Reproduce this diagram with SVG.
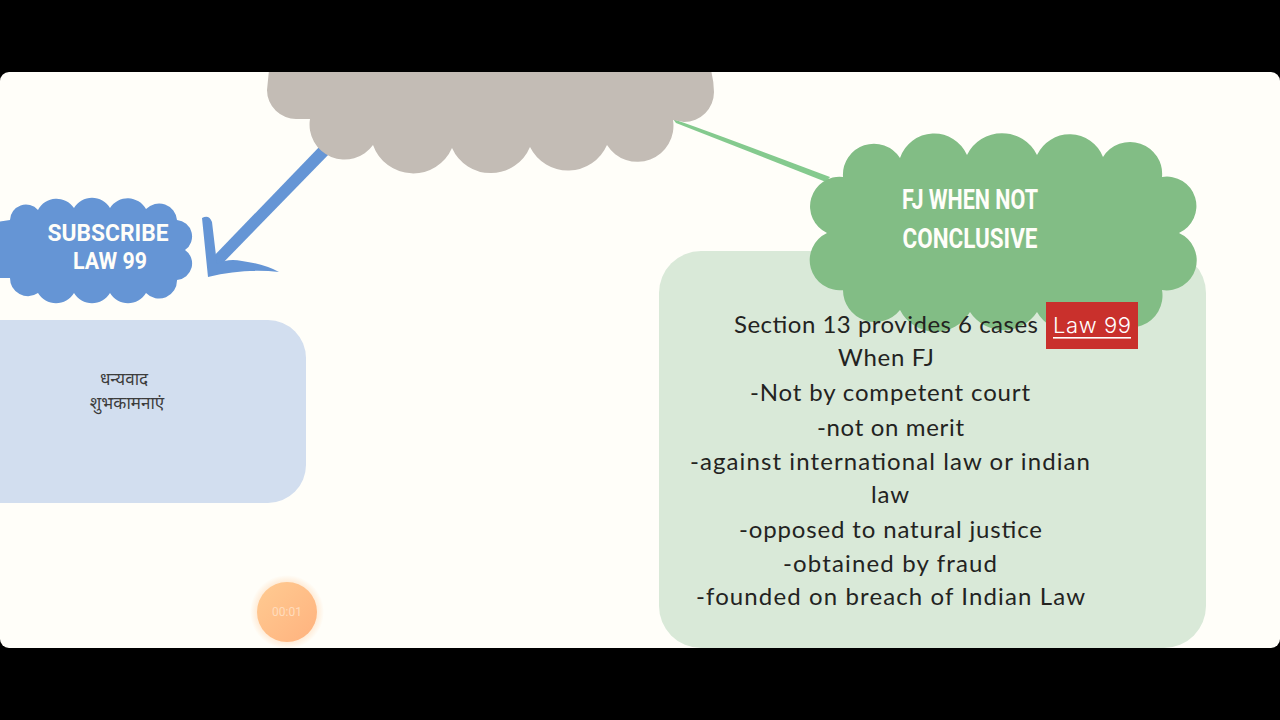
<svg xmlns="http://www.w3.org/2000/svg" width="1280" height="720" viewBox="0 0 1280 720">
<style>
.body{font-family:"Lato","Noto Sans",sans-serif;font-size:24px;fill:#23231f}
.head{font-family:"Roboto","Liberation Sans",sans-serif;font-weight:700;fill:#fffef9}
.hi{font-family:"Noto Sans","Noto Sans Devanagari","Lohit Devanagari","FreeSans",sans-serif;font-size:17px;fill:#3c3c3c;text-anchor:middle}
</style>
<defs>
<clipPath id="page"><rect x="0" y="72" width="1280" height="576" rx="9"/></clipPath>
<radialGradient id="glow"><stop offset="0.8" stop-color="#ffd9b5" stop-opacity="0.5"/><stop offset="1" stop-color="#ffd9b5" stop-opacity="0"/></radialGradient>
<linearGradient id="orb" x1="0" y1="0" x2="1" y2="1"><stop offset="0" stop-color="#ffcb92"/><stop offset="1" stop-color="#ffb27e"/></linearGradient>
</defs>
<rect width="1280" height="720" fill="#000"/>
<g clip-path="url(#page)">
<rect x="0" y="72" width="1280" height="576" fill="#fffef9"/>
<g id="connectors">
<path d="M322 144L332 151L218 268L212 272L210 260Z" fill="#6595d5"/>
<path d="M202 218Q209 214 212 222L217 264Q228 258 242 261Q264 264 279 272Q245 268 208 277Z" fill="#6595d5"/>
<path d="M673 119Q700 128 830 177L826 182L676 123Z" fill="#84ca8e"/>
</g>
<g id="node-top-cloud">
<path fill="#c3bcb5" d="M310 119L297 119A29 29 0 0 1 267 90L270 60L708 60Q714 78 714 92A30 30 0 0 1 684 122L673 120A36 36 0 0 1 607 145A42.5 42.5 0 0 1 530 147A42.5 42.5 0 0 1 452 148A42.5 42.5 0 0 1 373 145A35 35 0 0 1 310 119Z"/>
</g>
<g id="node-subscribe">
<path fill="#6595d5" d="M-10 250A18 18 0 0 1 -4 222L10 220A16 16 0 0 1 38 210A21 21 0 0 1 74 208A21 21 0 0 1 110 208A21 21 0 0 1 146 209A18 18 0 0 1 177 220A16.5 16.5 0 0 1 185 250A16.5 16.5 0 0 1 177 280A18 18 0 0 1 146 293A21 21 0 0 1 110 293A21 21 0 0 1 74 293A21 21 0 0 1 38 293A18 18 0 0 1 10 278L-4 278A18 18 0 0 1 -10 250Z"/>
<text class="head" x="108" y="241" font-size="23" text-anchor="middle" textLength="121" lengthAdjust="spacingAndGlyphs">SUBSCRIBE</text>
<text class="head" x="110" y="269" font-size="23" text-anchor="middle" textLength="74" lengthAdjust="spacingAndGlyphs">LAW 99</text>
</g>
<g id="node-thanks">
<rect x="-60" y="320" width="366" height="183" rx="38" fill="#d2deef"/>
<text class="hi" x="124" y="385">धन्यवाद</text>
<text class="hi" x="127" y="409">शुभकामनाएं</text>
</g>
<g id="node-fj-box">
<rect x="659" y="251" width="547" height="397" rx="42" fill="#d9e9d8"/>
</g>
<g id="node-fj-cloud">
<path fill="#82bd85" d="M843 177A31 31 0 0 1 900 158A36 36 0 0 1 967 155A39 39 0 0 1 1037 155A36 36 0 0 1 1103 157A32 32 0 0 1 1162 177A29.5 29.5 0 0 1 1179 233A30 30 0 0 1 1162 290A32 32 0 0 1 1103 312A38 38 0 0 1 1037 312A40 40 0 0 1 970 312A40 40 0 0 1 900 310A32 32 0 0 1 843 290A30 30 0 0 1 827 233A29.5 29.5 0 0 1 843 177Z"/>
<text class="head" x="970" y="209" font-size="28" text-anchor="middle" textLength="136" lengthAdjust="spacingAndGlyphs">FJ WHEN NOT</text>
<text class="head" x="970" y="248" font-size="28" text-anchor="middle" textLength="135" lengthAdjust="spacingAndGlyphs">CONCLUSIVE</text>
</g>
<g id="node-fj-text">
<text class="body" x="734" y="333" textLength="304">Section 13 provides 6 cases</text>
<text class="body" x="838" y="366" textLength="96">When FJ</text>
<text class="body" x="750" y="401" textLength="280">-Not by competent court</text>
<text class="body" x="817" y="436" textLength="147">-not on merit</text>
<text class="body" x="690" y="470" textLength="400">-against international law or indian</text>
<text class="body" x="871" y="503" textLength="38">law</text>
<text class="body" x="739" y="538" textLength="303">-opposed to natural justice</text>
<text class="body" x="783" y="572" textLength="214">-obtained by fraud</text>
<text class="body" x="696" y="605" textLength="389">-founded on breach of Indian Law</text>
</g>
<g id="node-law99-tag">
<rect x="1046" y="302" width="92" height="47" fill="#c9302c"/>
<text x="1053" y="333" font-family="Inter,'Liberation Sans',sans-serif" font-size="22" font-weight="300" fill="#fff" textLength="78">Law 99</text>
<rect x="1053" y="337" width="78" height="1.6" fill="#fff"/>
</g>
<g id="node-timer">
<circle cx="287" cy="612" r="37" fill="url(#glow)"/>
<circle cx="287" cy="612" r="30" fill="url(#orb)"/>
<text x="287" y="616" font-family="Roboto,'Liberation Sans',sans-serif" font-size="12" fill="#ffdcbc" text-anchor="middle">00:01</text>
</g>
</g>
</svg>
